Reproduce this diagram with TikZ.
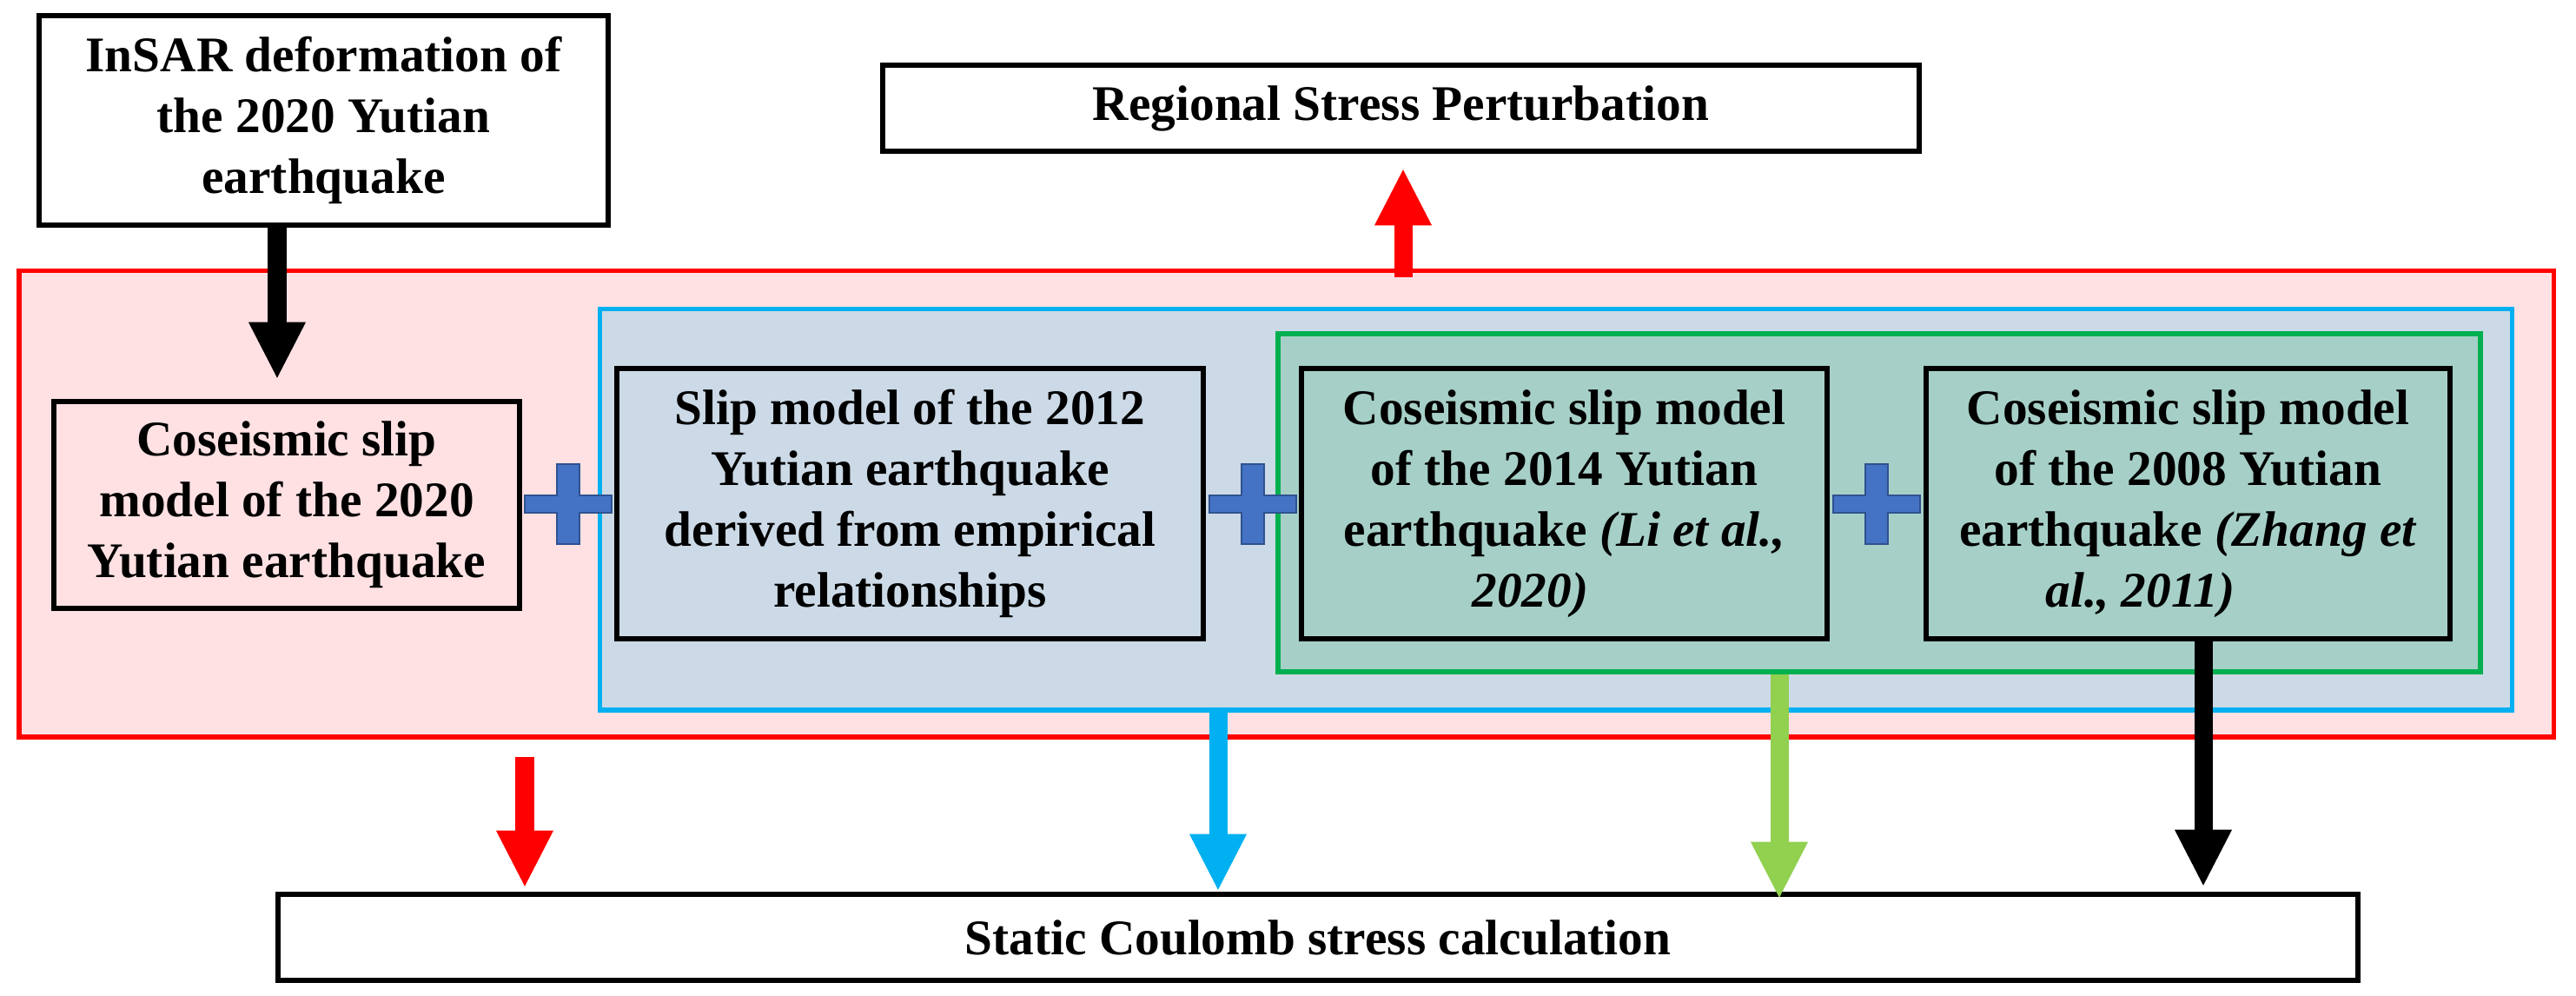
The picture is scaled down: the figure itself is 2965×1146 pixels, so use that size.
\documentclass[tikz,border=0pt]{standalone}
\usepackage{fontspec}
\setmainfont{Liberation Serif}
\usetikzlibrary{arrows.meta,calc}
\definecolor{pinkfill}{HTML}{FFE1E3}
\definecolor{bluefill}{HTML}{CCDAE7}
\definecolor{tealfill}{HTML}{A6D0C7}
\definecolor{cyanline}{HTML}{00B0F0}
\definecolor{greenline}{HTML}{00B050}
\definecolor{limearrow}{HTML}{92D050}
\definecolor{plusfill}{HTML}{4472C4}
\definecolor{plusline}{HTML}{2F528F}
\newcommand{\txtfont}{\bfseries\fontsize{16.3pt}{19.9pt}\selectfont}
\begin{document}
\begin{tikzpicture}[x=0.01cm,y=-0.01cm,
  box/.style={draw=black, line width=0.065cm, align=center, inner sep=0pt, font=\txtfont},
  frame/.style={line width=0.05cm, inner sep=0pt},
  arr/.style={line width=0.21cm, -{Triangle[width=0.66cm,length=0.64cm,line width=0pt]}},
  plusst/.style={fill=plusfill, draw=plusline, line width=0.025cm},
  plussign/.pic={\path[plusst] (-50,-10) -- (-13,-10) -- (-13,-46) -- (13,-46) -- (13,-10) -- (50,-10) -- (50,10) -- (13,10) -- (13,46) -- (-13,46) -- (-13,10) -- (-50,10) -- cycle;}
]
\useasboundingbox (0,0) rectangle (2965,1146);
\fill[white] (0,0) rectangle (2965,1146);

% frames
\node[frame, draw=red, fill=pinkfill, minimum width=2917*0.01cm, minimum height=536*0.01cm] (redbox) at (1480.5,580) {};
\node[frame, draw=cyanline, fill=bluefill, minimum width=2201*0.01cm, minimum height=461*0.01cm] (cyanbox) at (1790.5,586.5) {};
\node[frame, draw=greenline, line width=0.06cm, fill=tealfill, minimum width=1384*0.01cm, minimum height=389*0.01cm] (greenbox) at (2163,578.5) {};

% top boxes
\node[box, fill=white, minimum width=655*0.01cm, minimum height=241*0.01cm] (insar) at (372.5,138.5)
  {InSAR deformation of\\the 2020 Yutian\\earthquake};
\node[box, fill=white, minimum width=1193*0.01cm, minimum height=99*0.01cm] (regional) at (1612.5,124.5)
  {Regional Stress Perturbation};

% model boxes
\node[box, minimum width=536*0.01cm, minimum height=238*0.01cm] (c2020) at (330,581)
  {Coseismic slip\\model of the 2020\\Yutian earthquake};
\node[box, minimum width=675*0.01cm, minimum height=311*0.01cm] (c2012) at (1047.5,579.5)
  {Slip model of the 2012\\Yutian earthquake\\derived from empirical\\relationships};
\node[box, minimum width=605*0.01cm, minimum height=311*0.01cm] (c2014) at (1800.5,579.5)
  {Coseismic slip model\\of the 2014 Yutian\\earthquake \textit{(Li et al.,}\\\textit{2020)}\hspace*{0.78cm}};
\node[box, minimum width=603*0.01cm, minimum height=311*0.01cm] (c2008) at (2518.5,579.5)
  {Coseismic slip model\\of the 2008 Yutian\\earthquake \textit{(Zhang et}\\\textit{al., 2011)}\hspace*{1.1cm}};

% bottom box
\node[box, fill=white, minimum width=2394*0.01cm, minimum height=99*0.01cm] (stress) at (1517,1078.5)
  {Static Coulomb stress calculation};

% plus signs
\pic at (654,580) {plussign};
\pic at (1442,580) {plussign};
\pic at (2160,580) {plussign};

% arrows
\coordinate (s1) at ($(insar.south)+(-53.5,0)$);
\draw[arr, black] (s1) -- ($(s1 |- c2020.north)+(0,-24)$);

\coordinate (s2) at ($(redbox.north)+(134.5,10)$);
\draw[arr, red] (s2) -- ($(s2 |- regional.south)+(0,18)$);

\coordinate (s3) at ($(redbox.south)+(-876.5,20)$);
\draw[arr, red] (s3) -- ($(s3 |- stress.north)+(0,-6)$);

\coordinate (s4) at ($(cyanbox.south)+(-388.5,0)$);
\draw[arr, cyanline] (s4) -- ($(s4 |- stress.north)+(0,-2)$);

\coordinate (s5) at ($(greenbox.south)+(-115,0)$);
\draw[arr, limearrow] (s5) -- ($(s5 |- stress.north)+(0,7)$);

\coordinate (s6) at ($(c2008.south)+(17.5,0)$);
\draw[arr, black] (s6) -- ($(s6 |- stress.north)+(0,-7)$);
\end{tikzpicture}
\end{document}
